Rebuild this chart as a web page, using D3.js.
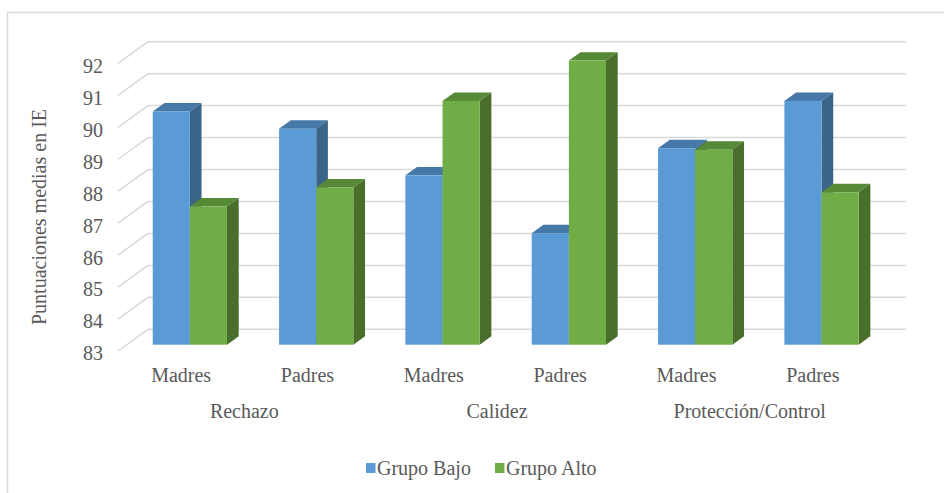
<!DOCTYPE html>
<html>
<head>
<meta charset="utf-8">
<script src="https://cdn.jsdelivr.net/npm/d3@7"></script>
<style>
  body { margin: 0; background: #fff; }
</style>
</head>
<body>
<script>
var width = 944, height = 493;
var FONT = '"Liberation Serif", Tinos, "Times New Roman"';

// data
var subCategories = ["Madres", "Padres", "Madres", "Padres", "Madres", "Padres"];
var groups = ["Rechazo", "Calidez", "Protección/Control"];
var seriesNames = ["Grupo Bajo", "Grupo Alto"];
var grupoBajo = [90.3, 89.76, 88.3, 86.49, 89.15, 90.63];
var grupoAlto = [87.33, 87.92, 90.63, 91.89, 89.1, 87.77];
var yTicks = [83, 84, 85, 86, 87, 88, 89, 90, 91, 92];

var COLORS = {
  "Grupo Bajo": { front: "#5b9bd5", top: "#4678a8", side: "#3b6489" },
  "Grupo Alto": { front: "#70ad47", top: "#578a36", side: "#4a6e2c" }
};

// 3d box: back wall, depth vector goes from back to front
var DEPTH_X = -30, DEPTH_Y = 21.7;
var BAR_FRONT = 0.71, BAR_BACK = 0.32;

var svg = d3.select('body').append('svg').attr('width', width).attr('height', height)
    .attr('font-family', FONT);

function label(sel) {
  return sel.attr('font-family', FONT).attr('font-size', 20).attr('fill', '#595959');
}

svg.append('rect')
    .attr('x', 7.5).attr('y', 12.5)
    .attr('width', width).attr('height', height)
    .attr('fill', 'none').attr('stroke', '#d9d9d9').attr('stroke-width', 1.5);

var y = d3.scaleLinear().domain([83, 92]).range([329.3, 41.7]);
var x = d3.scaleBand().domain(d3.range(subCategories.length))
    .range([148, 906]).paddingInner(0.412).paddingOuter(0.206);
var xs = d3.scaleBand().domain(seriesNames).range([0, x.bandwidth()]);

// gridlines on back wall and side wall
var grid = svg.append('g').attr('class', 'grid');
grid.selectAll('line.h').data(yTicks).enter().append('line')
    .attr('class', 'h')
    .attr('x1', 148).attr('x2', 906)
    .attr('y1', d => y(d)).attr('y2', d => y(d))
    .attr('stroke', '#d9d9d9').attr('stroke-width', 1.5);
grid.selectAll('line.d').data(yTicks).enter().append('line')
    .attr('class', 'd')
    .attr('x1', 148).attr('x2', 148 + DEPTH_X)
    .attr('y1', d => y(d)).attr('y2', d => y(d) + DEPTH_Y)
    .attr('stroke', '#d9d9d9').attr('stroke-width', 1.5);

// y axis labels sit at the front edge
var yFront = y.copy().range(y.range().map(v => v + DEPTH_Y + 2.5));
var yAxis = svg.append('g')
    .attr('transform', 'translate(' + (148 + DEPTH_X - 15) + ',0)')
    .call(d3.axisLeft(yFront).tickValues(yTicks).tickSize(0).tickPadding(0).tickFormat(d3.format('d')));
yAxis.attr('font-family', FONT).attr('font-size', 20);
yAxis.select('.domain').remove();
label(yAxis.selectAll('text'));

label(svg.append('text'))
    .attr('transform', 'translate(39,217) rotate(-90)')
    .attr('text-anchor', 'middle')
    .attr('dy', '0.35em')
    .text('Puntuaciones medias en IE');

// bars
var bars = [];
subCategories.forEach(function (c, i) {
  bars.push({ i: i, s: "Grupo Bajo", v: grupoBajo[i] });
  bars.push({ i: i, s: "Grupo Alto", v: grupoAlto[i] });
});

var fx = BAR_FRONT * DEPTH_X, fy = BAR_FRONT * DEPTH_Y;
var dx = -(BAR_FRONT - BAR_BACK) * DEPTH_X, dy = -(BAR_FRONT - BAR_BACK) * DEPTH_Y;

var barG = svg.append('g').attr('class', 'bars').selectAll('g').data(bars).enter().append('g');

function pts(a) { return a.map(p => p.join(',')).join(' '); }

barG.each(function (d) {
  var g = d3.select(this);
  var x0 = x(d.i) + xs(d.s) + fx, w = xs.bandwidth();
  var yt = y(d.v) + fy, yb = y(83) + fy;
  var col = COLORS[d.s];
  g.append('polygon')
      .attr('points', pts([[x0, yt], [x0 + w, yt], [x0 + w + dx, yt + dy], [x0 + dx, yt + dy]]))
      .attr('fill', col.top);
  g.append('polygon')
      .attr('points', pts([[x0 + w, yt], [x0 + w + dx, yt + dy], [x0 + w + dx, yb + dy], [x0 + w, yb]]))
      .attr('fill', col.side);
  g.append('rect')
      .attr('x', x0).attr('y', yt)
      .attr('width', w).attr('height', yb - yt)
      .attr('fill', col.front);
});

// category labels at the front floor edge
label(svg.append('g').selectAll('text').data(subCategories).enter().append('text'))
    .attr('x', (d, i) => x(i) + x.bandwidth() / 2 + DEPTH_X)
    .attr('y', 375)
    .attr('dy', '0.35em')
    .attr('text-anchor', 'middle')
    .text(d => d);

label(svg.append('g').selectAll('text').data(groups).enter().append('text'))
    .attr('x', (d, k) => (x(2 * k) + x(2 * k + 1)) / 2 + x.bandwidth() / 2 + DEPTH_X)
    .attr('y', 411)
    .attr('dy', '0.35em')
    .attr('text-anchor', 'middle')
    .text(d => d);

// legend
var legendX = [366, 495];
var legend = svg.append('g').selectAll('g').data(seriesNames).enter().append('g')
    .attr('transform', (d, i) => 'translate(' + legendX[i] + ',463)');
legend.append('rect')
    .attr('width', 9.5).attr('height', 10)
    .attr('fill', d => COLORS[d].front);
label(legend.append('text'))
    .attr('x', 11).attr('y', 5)
    .attr('dy', '0.35em')
    .text(d => d);
</script>
</body>
</html>
